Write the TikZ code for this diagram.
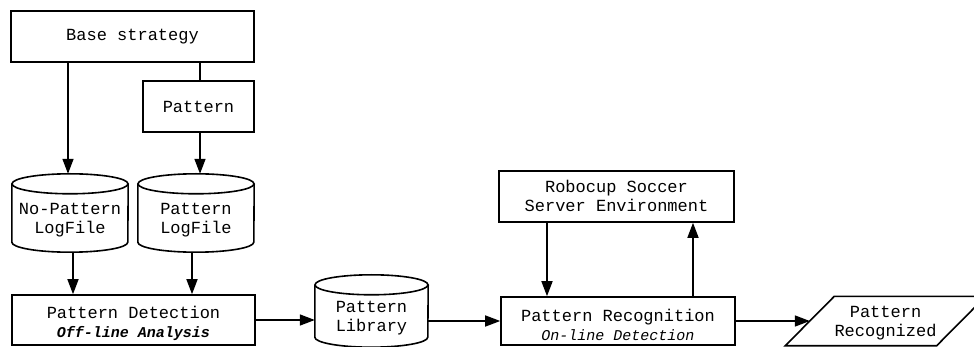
\documentclass[tikz,border=0pt]{standalone}
\usepackage{fontspec}
\setmainfont{Liberation Mono}
\usetikzlibrary{arrows.meta}

\tikzset{
  flowline/.style={line width=1.6pt},
  arr/.style={flowline,-{Triangle[length=15pt,width=11pt]}},
  textfont/.style={font=\fontsize{17}{19}\selectfont},
  proc/.style={draw,flowline,rectangle,inner sep=0pt,align=center,textfont},
  plain/.style={rectangle,inner sep=0pt,align=center,textfont},
}
% smaller italic remark under a box title
\newcommand\remark[1]{{\fontsize{15}{19}\selectfont\itshape #1}}
% database drum round a named node whose north edge is the top ellipse centre:
% name, half width
\newcommand\drum[2]{%
  \draw[flowline] (#1.north) ellipse (#2 and 10pt);
  \draw[flowline] (#1.north west) -- ([yshift=10pt]#1.south west)
    arc[start angle=180,end angle=360,x radius=#2,y radius=10pt]
    -- (#1.north east);
}

\begin{document}
\begin{tikzpicture}[x=1pt,y=-1pt]
\useasboundingbox (0,0) rectangle (974,347);

% sources
\node[proc,minimum width=243pt,minimum height=51pt] (base) at (132.5,36.5) {Base strategy};
\node[proc,minimum width=111pt,minimum height=51pt] (pat) at (198.5,106.5) {Pattern};

% log files
\node[plain,minimum width=116pt,minimum height=68pt] (nopat) at (70,218) {};
\node[plain,minimum width=116pt,minimum height=68pt] (patlog) at (196,218) {};
\drum{nopat}{58pt}
\drum{patlog}{58pt}
\node[plain] (nopattxt) at (70,220) {No-Pattern\\LogFile};
\node[plain] (patlogtxt) at (196,220) {Pattern\\LogFile};

% processing chain
\node[proc,minimum width=243pt,minimum height=50pt] (detect) at (133.5,320) {};
\node[plain] (detecttxt) at (133.5,323.5) {Pattern Detection\\\remark{\bfseries Off-line Analysis}};
\node[plain,minimum width=113pt,minimum height=62pt] (lib) at (371.5,316) {};
\drum{lib}{56.5pt}
\node[plain] (libtxt) at (371.5,318.5) {Pattern\\Library};
\node[proc,minimum width=234pt,minimum height=48pt] (recog) at (618,321) {};
\node[plain] (recogtxt) at (618,324.5) {Pattern Recognition\\\remark{On-line Detection}};
\node[proc,minimum width=235pt,minimum height=51pt] (env) at (616.5,196.5) {};
\node[plain] (envtxt) at (616.5,196) {Robocup Soccer\\Server Environment};

% result: slanted box round a named frame
\node[plain,minimum width=151pt,minimum height=49pt] (found) at (885.5,321) {};
\draw[flowline] ([xshift=-24.5pt]found.south west) -- ([xshift=24.5pt]found.north west)
  -- ([xshift=24.5pt]found.north east) -- ([xshift=-24.5pt]found.south east) -- cycle;
\node[plain] (foundtxt) at (885.5,323) {Pattern\\Recognized};

% connector columns
\coordinate (c68) at (68,0);
\coordinate (c73) at (73,0);
\coordinate (c192) at (192,0);
\coordinate (c200) at (200,0);
\coordinate (c547) at (547,0);
\coordinate (c693) at (693,0);

\draw[arr] (base.south -| c68) -- ([yshift=10pt]nopat.north -| c68);
\draw[flowline] (base.south -| c200) -- (pat.north -| c200);
\draw[arr] (pat.south -| c200) -- ([yshift=10pt]patlog.north -| c200);
\draw[arr] (nopat.south -| c73) -- (detect.north -| c73);
\draw[arr] (patlog.south -| c192) -- (detect.north -| c192);
\draw[arr] (detect.east) -- (detect.east -| lib.west);
\draw[arr] (lib.east |- recog.west) -- (recog.west);
\draw[arr] (env.south -| c547) -- (recog.north -| c547);
\draw[arr] (recog.north -| c693) -- (env.south -| c693);
\draw[arr] (recog.east) -- (found.west);
\end{tikzpicture}
\end{document}
